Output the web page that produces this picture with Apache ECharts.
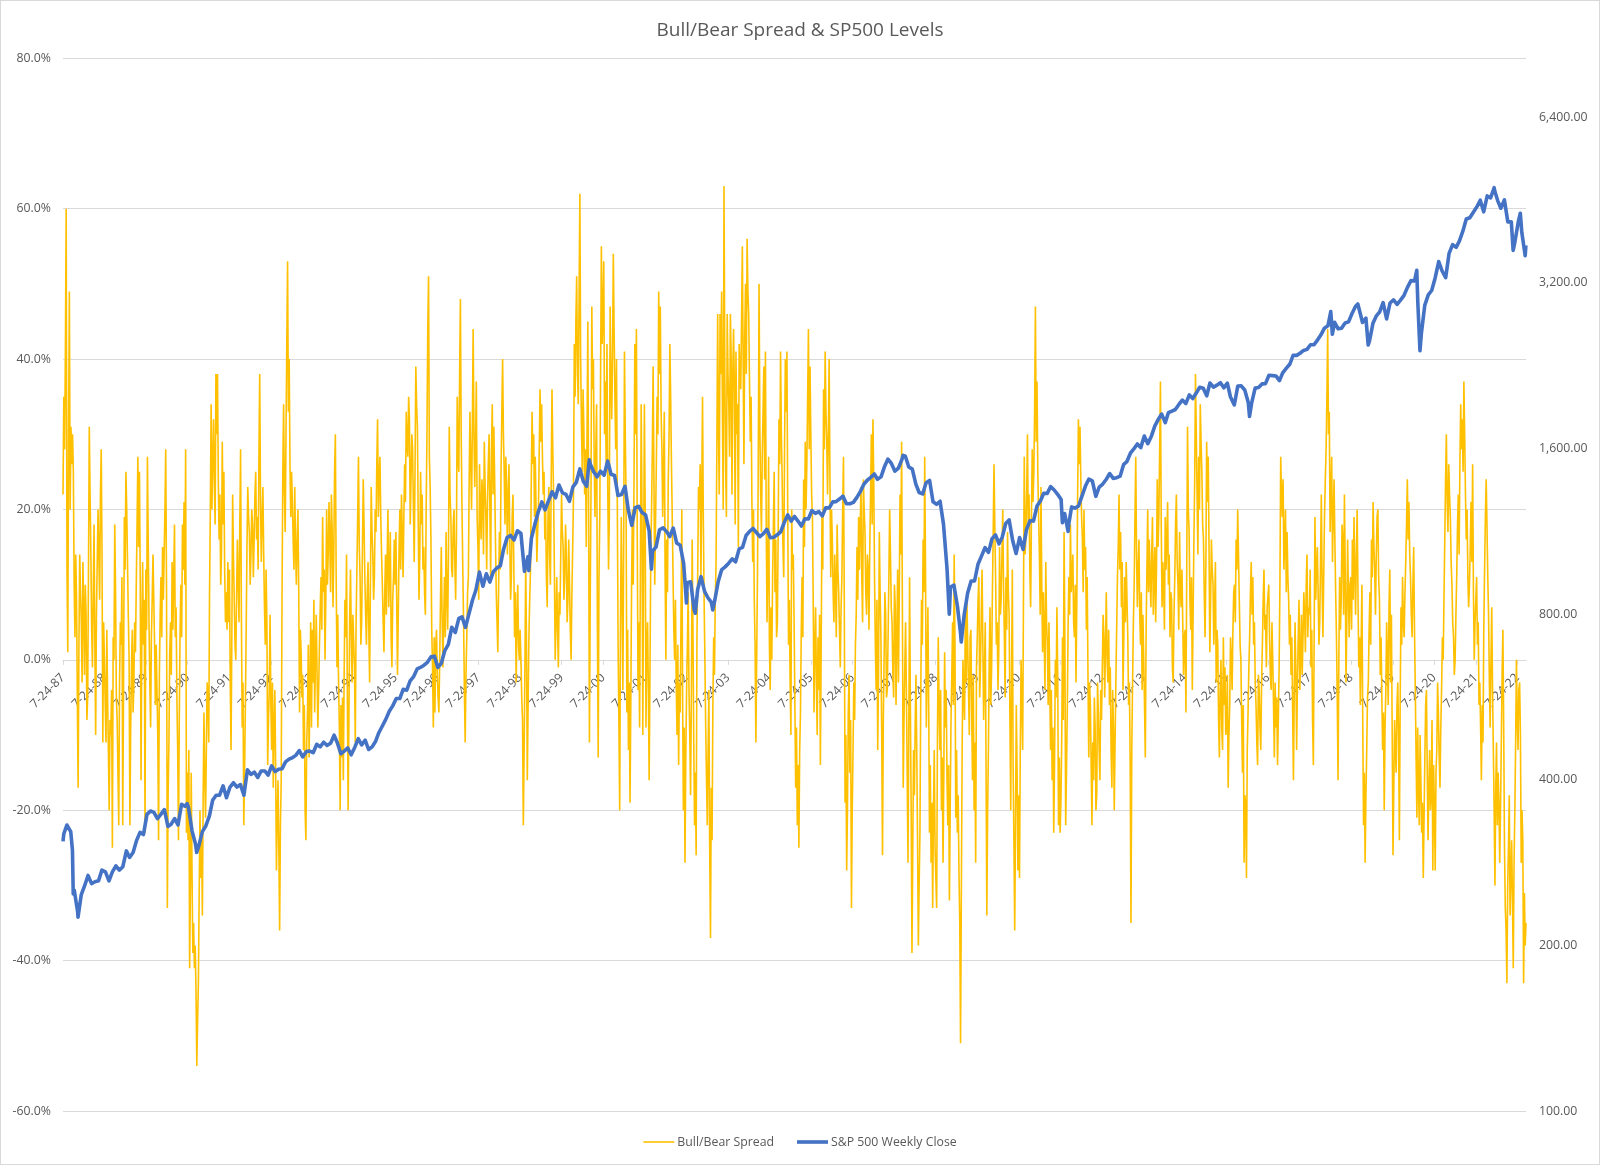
<!DOCTYPE html>
<html><head><meta charset="utf-8">
<script src="https://cdn.jsdelivr.net/npm/echarts@6/dist/echarts.min.js"></script>
<style>html,body{margin:0;padding:0;background:#fff}#c{width:1600px;height:1165px;box-sizing:border-box;border:1px solid #d9d9d9;background:#fff}</style>
</head><body><div id="c"></div><script>
const chartTitle = 'Bull/Bear Spread & SP500 Levels';
const seriesNames = ['Bull/Bear Spread', 'S&P 500 Weekly Close'];
const tickLabels = ['7-24-87','7-24-88','7-24-89','7-24-90','7-24-91','7-24-92','7-24-93','7-24-94','7-24-95','7-24-96','7-24-97','7-24-98','7-24-99','7-24-00','7-24-01','7-24-02','7-24-03','7-24-04','7-24-05','7-24-06','7-24-07','7-24-08','7-24-09','7-24-10','7-24-11','7-24-12','7-24-13','7-24-14','7-24-15','7-24-16','7-24-17','7-24-18','7-24-19','7-24-20','7-24-21','7-24-22'];
const leftTicks = [-60, -40, -20, 0, 20, 40, 60, 80];
const rightTicks = [100, 200, 400, 800, 1600, 3200, 6400];
const rightMax = 8192;

// Weekly bull/bear spread (%), one week apart, first week 7-24-87 (rows = survey years from 7-24)
const spreadPct = [
22,35,28,41,60,12,1,30,49,20,31,26,30,25,10,3,14,8,-5,-17,2,14,9,5,-3,13,7,-2,10,6,-8,-5,12,31,22,14,4,-1,9,18,2,-10,6,13,20,14,8,22,28,14,-11,5,
0,-6,-11,4,-5,-12,-20,-8,-10,-4,-25,3,0,18,9,-5,-8,-15,-22,-3,5,2,11,-22,-4,19,12,25,20,13,6,0,-22,-9,-1,4,-7,-3,5,1,10,18,27,15,25,10,-16,4,13,2,8,-23,
12,4,27,16,5,-3,-9,3,8,14,8,2,-6,2,-4,-10,-24,-2,6,11,3,15,8,8,20,28,9,-33,-18,-11,1,5,-2,13,4,11,18,3,7,-5,-12,-24,-8,4,10,3,18,12,21,10,28,-23,
-15,-24,-12,-41,-30,-15,-28,-39,-35,-41,-38,-44,-54,-48,-43,-31,-20,-29,-24,-34,-18,-7,-16,-21,-12,-3,-5,-11,9,20,34,20,26,32,24,18,38,30,38,24,16,22,10,14,29,18,25,12,5,9,4,13,
5,12,-3,-12,3,22,14,8,2,0,9,16,10,5,18,28,6,-9,-3,-22,-15,-6,4,15,23,19,17,10,14,20,18,11,16,22,25,16,19,12,27,38,21,13,19,23,14,7,2,12,5,-14,-8,-4,6,
-6,-12,-3,-17,-9,-4,-14,-28,-21,-16,-25,-36,-22,-16,8,25,34,22,17,30,42,53,33,40,26,19,25,21,16,12,23,15,10,16,20,9,-7,4,1,-5,-2,-12,-6,-20,-24,-11,-7,2,-13,-4,5,-9,
4,-3,8,-7,0,6,-2,-9,-4,2,7,11,4,19,9,12,0,8,20,10,14,21,16,9,22,17,7,14,25,30,11,-1,6,-3,-9,-20,-6,-13,-5,-16,-2,8,3,14,-4,-20,-8,6,12,3,-3,6,
6,-1,-11,5,12,19,27,15,11,2,5,15,24,18,11,6,2,9,13,4,-3,10,23,17,14,8,11,20,17,26,32,19,24,27,19,14,10,5,1,9,14,6,13,20,7,12,17,3,-1,8,11,16,
10,17,8,-2,6,15,20,12,22,17,11,19,26,21,33,29,27,35,32,18,24,30,28,20,13,25,39,34,31,19,8,14,25,18,22,12,15,9,6,20,30,44,51,27,23,16,4,-1,-9,3,-7,2,
4,-2,-5,-7,0,8,15,6,-1,5,11,3,17,9,4,14,31,22,19,12,11,18,20,13,8,16,35,27,25,38,48,30,20,12,5,-4,-11,-2,3,9,11,24,33,26,20,31,44,30,23,29,37,19,
15,8,26,20,16,24,22,14,29,23,19,12,21,26,30,20,11,28,34,22,31,24,16,9,5,1,10,17,12,25,33,40,30,25,18,27,23,14,22,26,16,8,11,19,22,13,3,9,-3,5,10,2,0,
4,0,-5,-8,-22,-12,-1,13,2,-16,-6,3,8,12,24,33,26,30,19,27,20,13,17,20,28,36,29,34,27,22,25,16,20,11,7,19,23,14,10,24,36,28,22,12,0,5,11,4,-1,9,6,14,
22,17,15,8,11,18,14,5,8,16,10,4,0,9,15,22,42,35,45,51,38,34,48,62,40,31,25,36,31,22,28,15,30,45,20,-11,8,23,47,36,40,26,19,28,34,5,-13,11,19,38,55,42,
46,53,30,37,26,42,23,12,19,47,38,32,40,54,44,35,28,40,21,2,-8,-20,5,19,8,-4,15,41,30,22,-7,4,-12,-3,-19,-5,11,20,10,24,42,30,44,18,-4,5,-9,12,34,20,-10,11,
34,20,-9,2,5,-4,-16,-2,13,20,28,39,24,10,18,26,35,30,49,38,47,33,28,19,25,33,12,0,16,9,24,30,42,35,26,19,11,4,0,8,-3,-10,2,-14,-3,-7,6,20,-5,-20,-9,-27,-13,
-4,2,9,-4,-10,-18,-5,16,4,-11,-22,-15,-26,3,12,23,20,26,11,22,35,19,8,0,-9,-16,-22,-12,-4,-25,-37,-17,-24,-6,3,-2,8,13,28,46,31,22,46,38,49,33,20,63,38,26,19,46,
38,34,27,46,40,22,38,44,36,18,41,30,34,15,42,38,36,45,55,40,26,43,50,38,56,49,46,37,29,35,21,13,20,8,2,-11,0,11,26,50,31,22,17,27,33,39,24,41,18,5,12,27,
2,-4,7,0,11,18,25,9,16,3,5,17,32,26,41,30,24,15,11,28,40,33,41,20,2,8,-3,-10,20,12,14,5,-6,-17,-9,-22,-14,-25,-12,-7,4,11,3,24,15,29,20,26,35,44,28,39,
30,22,19,8,-7,2,7,-3,-10,3,-4,6,-14,2,19,12,36,28,41,33,29,22,30,40,24,11,20,16,9,5,14,10,3,18,12,9,4,-1,7,11,20,27,8,-19,-10,-28,-20,-7,-2,-15,-8,-33,
-20,-12,-3,-8,2,6,15,8,19,12,18,23,11,5,24,20,17,9,6,14,12,4,15,22,30,18,32,24,11,2,-4,8,-12,-2,17,9,3,-10,-26,-8,0,9,6,-5,-4,3,11,20,14,7,5,-2,
-5,10,7,-6,3,12,-3,8,22,14,29,6,-17,-8,-1,5,-4,-15,-27,-10,11,-6,-20,-39,-25,-12,-18,-9,-2,-12,-24,-38,-30,-23,-5,8,2,16,9,27,12,-9,-2,7,-6,-23,-14,-27,-19,-33,-20,-12,-25,
-25,-33,-10,3,-6,-12,-4,-20,-13,-27,-15,1,-9,-4,-16,-22,-14,-32,-20,-8,-2,5,-6,14,2,-21,-12,-23,-18,-28,-35,-51,-31,-12,0,-5,-8,6,-3,8,2,-4,-10,3,4,-7,-16,-2,-20,-11,-27,-1,
3,8,11,-5,-1,6,12,2,-8,-2,5,-14,-34,-20,-12,0,7,-6,-1,9,17,26,18,11,2,5,-4,1,15,6,8,14,20,10,3,-5,11,4,17,9,6,-8,-20,-3,12,-14,-24,-36,-22,-6,-15,-28,
-18,-29,-12,0,-6,-12,8,27,14,16,22,30,18,22,12,7,19,28,21,25,33,47,29,37,25,19,14,6,23,10,1,9,3,-4,13,5,2,-6,5,-3,-12,-4,-16,-9,-23,-14,0,-5,7,-2,-22,-13,
-23,-19,-11,3,-8,17,2,-22,-15,-7,4,11,6,18,9,11,14,5,3,10,-3,8,22,32,26,31,24,19,16,9,20,12,15,4,11,-2,-13,-3,-6,-14,-22,-11,-16,-5,-9,-20,-18,-3,-7,-12,-16,-4,
-8,-1,6,3,-5,2,9,0,-3,4,-6,-1,-12,-17,-4,-9,-20,-11,-3,4,11,15,22,12,17,7,13,-4,3,11,5,13,8,3,-6,-3,-14,-35,-12,-3,5,10,19,27,14,7,12,16,6,2,9,-4,
6,0,-6,-13,4,12,20,9,16,11,7,14,19,6,11,15,5,12,24,15,19,28,37,18,7,13,10,4,19,12,16,21,10,14,3,9,8,-1,-3,6,11,18,22,13,10,4,17,9,7,12,5,-2,3,
4,-7,12,31,20,17,8,4,11,-4,6,16,24,38,30,22,14,27,20,34,29,25,18,16,9,3,12,29,21,27,15,1,8,16,12,10,2,7,13,-3,4,2,-8,-13,-4,0,-9,-12,3,-6,-1,-10,
-9,-2,-17,-10,-6,3,0,-4,4,9,10,5,16,12,20,14,8,2,0,-8,-15,-6,-27,-18,-19,-29,-12,-7,-1,3,9,13,6,11,2,5,-3,-6,-11,-14,-2,-4,-9,-12,-3,2,8,12,4,6,-1,7,
7,10,3,-2,-4,5,0,-6,-13,-3,-9,-5,-14,-8,-1,10,27,22,19,24,12,16,20,9,17,11,8,2,6,-2,3,-7,-16,-4,5,-1,-12,-3,3,8,-4,0,6,-2,3,9,6,1,10,14,3,7,
6,12,-1,4,-8,-14,3,19,8,12,15,9,2,5,13,22,10,3,11,19,24,28,35,44,30,33,17,22,27,13,19,24,16,9,3,-5,-16,0,11,4,8,18,16,6,22,12,-3,5,16,9,3,10,
11,4,16,8,19,12,6,14,20,9,-1,3,-6,2,10,-8,-22,-15,-27,-18,-12,-5,-3,4,9,2,16,11,21,15,12,6,14,19,20,11,8,-2,3,-5,-12,-7,-20,-9,-4,5,0,-6,7,12,-3,6,-10,
-26,-17,-8,-12,-15,-6,-3,-10,-24,-6,7,2,11,5,3,9,13,18,24,16,21,14,11,6,3,10,15,4,-4,-13,-21,-9,-17,-22,-10,-16,-23,-19,-29,-21,-13,-6,-4,-15,-24,-17,-12,-20,-18,-8,-28,-14,
-20,-28,-15,-12,-3,-7,-13,-17,-9,-4,3,0,8,16,24,30,21,17,26,22,19,13,10,5,3,-2,0,6,11,18,22,14,26,34,28,32,25,37,30,22,16,20,11,7,10,15,21,13,26,9,0,5,
8,11,2,5,-6,-3,-9,-16,-6,-11,4,12,19,24,18,11,6,-3,-9,0,7,-4,-12,-20,-30,-17,-11,-22,-15,-19,-27,-20,-11,-2,4,-9,-25,-33,-36,-43,-30,-25,-18,-34,-29,-24,-32,-41,-27,-20,-11,0,
-8,-12,-4,-3,-10,-27,-20,-24,-43,-31,-38,-35
];

// S&P 500 month-end closes, Jul 1987 .. Sep 2022
const spxMonthly = [
319,330,322,252,230,247,
257,268,259,261,262,274,272,262,272,279,274,278,
297,289,295,310,321,318,346,351,349,340,346,353,
329,332,340,331,361,358,356,323,306,304,322,330,
344,367,375,375,390,371,388,395,388,392,375,417,
409,413,404,415,415,408,424,414,418,419,431,436,
439,443,452,440,450,451,448,464,459,468,462,466,
482,467,446,451,457,444,458,475,463,472,454,459,
470,487,501,515,533,545,562,562,584,582,605,616,
636,640,646,654,669,671,640,652,687,705,757,741,
786,791,757,801,848,885,954,899,947,915,955,970,
980,1049,1102,1112,1091,1134,1121,957,1017,1099,1164,1229,
1280,1238,1286,1335,1302,1373,1329,1320,1283,1363,1389,1469,
1394,1366,1499,1452,1421,1455,1431,1518,1437,1429,1315,1320,
1366,1240,1160,1249,1256,1224,1211,1134,1041,1060,1139,1148,
1130,1107,1147,1077,1067,990,912,916,815,886,936,880,
856,841,848,917,964,975,990,1008,996,1051,1058,1112,
1131,1145,1126,1107,1121,1141,1102,1104,1115,1130,1174,1212,
1181,1204,1181,1157,1192,1191,1234,1220,1229,1207,1249,1248,
1280,1281,1295,1311,1270,1270,1277,1304,1336,1378,1401,1418,
1438,1407,1421,1482,1531,1503,1455,1474,1527,1549,1481,1468,
1379,1331,1323,1386,1400,1280,1267,1283,1166,969,896,903,
826,735,798,873,919,919,987,1021,1057,1036,1096,1115,
1074,1104,1169,1187,1089,1031,1102,1049,1141,1183,1181,1258,
1286,1327,1326,1364,1345,1321,1292,1219,1131,1253,1247,1258,
1312,1366,1408,1398,1310,1362,1379,1407,1441,1412,1416,1426,
1498,1515,1569,1598,1631,1606,1686,1633,1682,1757,1806,1848,
1783,1859,1872,1884,1924,1960,1931,2003,1972,2018,2068,2059,
1995,2105,2068,2086,2107,2063,2104,1972,1920,2079,2080,2044,
1940,1932,2060,2065,2097,2099,2174,2171,2168,2126,2199,2239,
2279,2364,2363,2384,2412,2423,2470,2472,2519,2575,2648,2674,
2824,2714,2641,2648,2705,2718,2816,2902,2914,2712,2760,2507,
2704,2784,2834,2946,2752,2942,2980,2926,2977,3038,3141,3231,
3226,2954,2585,2912,3044,3100,3271,3500,3363,3270,3622,3756,
3714,3811,3973,4181,4204,4298,4395,4523,4308,4605,4567,4766,
4516,4374,4530,4132,4132,3785,4130,3955,3586
];
// Notable weekly closes (dates and values)
const spxWeekDates = ['1987-07-24','1987-08-27','1987-10-15','1987-10-22','1987-12-03','1990-07-19','1990-10-11','1998-10-08','2000-03-23','2000-09-07','2001-04-05','2001-09-20','2002-07-25','2002-10-10','2003-03-13','2007-10-11','2008-11-20','2009-03-05','2010-07-01','2011-08-11','2011-10-06','2015-08-27','2016-02-11','2018-01-25','2018-02-08','2018-09-20','2018-12-20','2020-02-20','2020-03-19','2022-01-06','2022-06-16','2022-08-18','2022-10-06'];
const spxWeekClose = [309,331,298,248,225,362,295,960,1527,1502,1151,966,838,803,814,1555,800,712,1027,1173,1165,1987,1829,2839,2581,2930,2467,3373,2409,4696,3667,4283,3745];

const DAY = 864e5, YEAR = 365.25;
const t0 = Date.UTC(1987, 6, 24);
const dayOf = s => { const p = s.split('-').map(Number); return (Date.UTC(p[0], p[1]-1, p[2]) - t0) / DAY; };
const spreadData = spreadPct.map((v, i) => [7 * i, v]);
const spxData = spxMonthly.map((v, m) => [(Date.UTC(1987, 7 + m, 0) - t0) / DAY, v]);
spxWeekDates.forEach((d, i) => spxData.push([dayOf(d), spxWeekClose[i]]));
spxData.sort((a, b) => a[0] - b[0]);
const xMax = 7 * (spreadPct.length - 1);

// layout
const W = 1598, H = 1163;
const G = {left: 62, right: 73, top: 57.3, bottom: 53};
const gridH = H - G.top - G.bottom;
const yMin = leftTicks[0], yMax = leftTicks[leftTicks.length - 1];
const zeroOffset = -gridH * (0 - yMin) / (yMax - yMin);
const logSpan = Math.log2(rightMax / rightTicks[0]);

const FONT = "'Open Sans', 'Noto Sans', sans-serif";
const GREY = '#595959', GRID = '#d9d9d9';
const fmt2 = n => n.toLocaleString('en-US', {minimumFractionDigits: 2, maximumFractionDigits: 2});
const chart = echarts.init(document.getElementById('c'), null, {renderer: 'canvas', width: W, height: H});
chart.setOption({
  animation: false,
  backgroundColor: '#fff',
  textStyle: {fontFamily: FONT},
  title: {text: chartTitle, left: 'center', top: 15,
    textStyle: {color: GREY, fontSize: 19, fontWeight: 'normal', fontFamily: FONT}},
  legend: {left: 'center', top: 1130, itemWidth: 31, itemHeight: 12, itemGap: 23,
    textStyle: {color: GREY, fontSize: 12.3, fontFamily: FONT, padding: [0, 0, 0, -2]},
    data: [
      {name: seriesNames[0], icon: 'path://M0 0 H31 V1.6 H0 Z'},
      {name: seriesNames[1], icon: 'path://M0 0 H31 V3.6 H0 Z'}
    ]},
  grid: Object.assign({containLabel: false}, G),
  xAxis: {type: 'value', min: 0, max: xMax, interval: YEAR, position: 'bottom', offset: zeroOffset,
    axisLine: {show: true, onZero: false, lineStyle: {color: GRID, width: 1}},
    axisTick: {show: true, length: 5, lineStyle: {color: GRID}},
    splitLine: {show: false},
    axisLabel: {rotate: 45, margin: 16, color: GREY, fontSize: 12.3, fontFamily: FONT, showMaxLabel: false,
      formatter: v => { const k = Math.round(v / YEAR); return (Math.abs(v - k * YEAR) < 0.5 && tickLabels[k]) ? tickLabels[k] : ''; }}},
  yAxis: [
    {type: 'value', min: yMin, max: yMax, interval: 20, position: 'left',
      axisLine: {show: false}, axisTick: {show: false},
      splitLine: {show: true, lineStyle: {color: GRID, width: 1}},
      axisLabel: {margin: 12, color: GREY, fontSize: 12.3, fontFamily: FONT, formatter: v => v.toFixed(1) + '%'}},
    {type: 'log', logBase: 2, min: rightTicks[0], max: rightMax, position: 'right',
      axisLine: {show: false}, axisTick: {show: false}, splitLine: {show: false}, axisLabel: {show: false}},
    // label-only axis for the log scale: one step per doubling from 100
    {type: 'value', min: 0, max: logSpan, interval: 1, position: 'right',
      axisLine: {show: false}, axisTick: {show: false}, splitLine: {show: false},
      axisLabel: {margin: 13, color: GREY, fontSize: 12.3, fontFamily: FONT, showMaxLabel: false,
        formatter: v => { const k = Math.round(v); return (Math.abs(v - k) < 1e-6 && rightTicks[k] != null) ? fmt2(rightTicks[k]) : ''; }}}
  ],
  series: [
    {name: seriesNames[0], type: 'line', yAxisIndex: 0, data: spreadData, symbol: 'none', z: 2,
      lineStyle: {color: '#FFC000', width: 1.6}, itemStyle: {color: '#FFC000'}},
    {name: seriesNames[1], type: 'line', yAxisIndex: 1, data: spxData, symbol: 'none', z: 3,
      lineStyle: {color: '#4472C4', width: 3.6, join: 'round'}, itemStyle: {color: '#4472C4'}}
  ]
});
</script></body></html>
